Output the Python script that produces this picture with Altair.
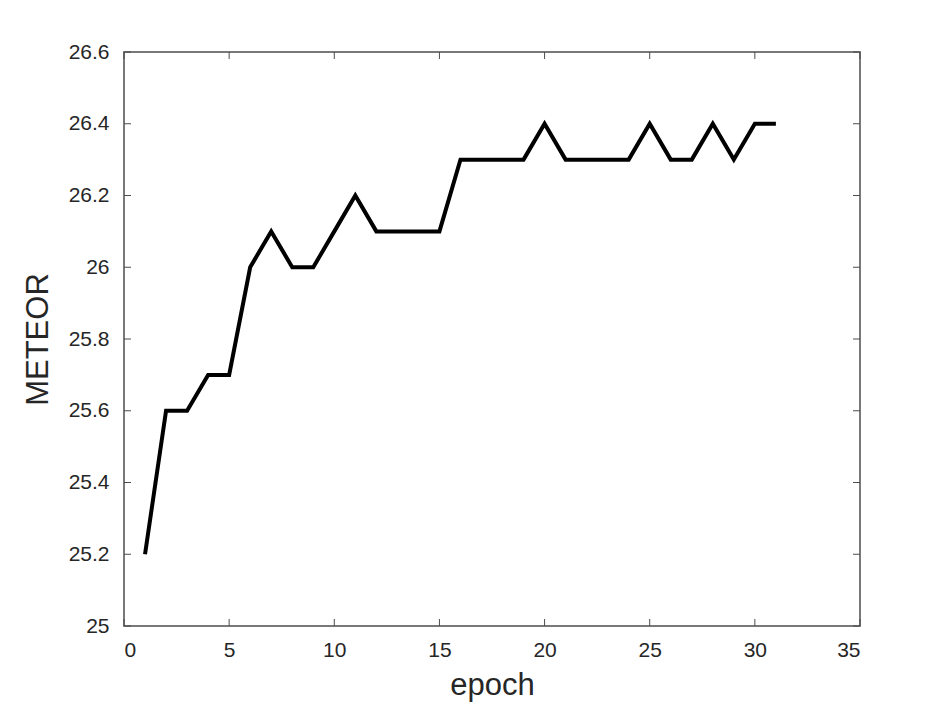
import altair as alt
import pandas as pd

epochs = list(range(1, 32))
meteor = [25.2, 25.6, 25.6, 25.7, 25.7, 26.0, 26.1, 26.0, 26.0, 26.1,
          26.2, 26.1, 26.1, 26.1, 26.1, 26.3, 26.3, 26.3, 26.3, 26.4,
          26.3, 26.3, 26.3, 26.3, 26.4, 26.3, 26.3, 26.4, 26.3, 26.4, 26.4]
x_ticks = [0, 5, 10, 15, 20, 25, 30, 35]
y_ticks = [25.0, 25.2, 25.4, 25.6, 25.8, 26.0, 26.2, 26.4, 26.6]

W, H = 736, 574
TL = 7
FONT = "Liberation Sans"
AXC = "#4d4d4d"
TXT = "#262626"

df = pd.DataFrame({"epoch": epochs, "METEOR": meteor})
xt = pd.DataFrame({"t": x_ticks})
yt = pd.DataFrame({"t": y_ticks})

xs = alt.Scale(domain=[0, 35], nice=False, zero=False)
ys = alt.Scale(domain=[25, 26.6], nice=False, zero=False)

line = alt.Chart(df).mark_line(color="black", strokeWidth=4, clip=True,
                               strokeJoin="miter", strokeCap="butt").encode(
    x=alt.X("epoch:Q", scale=xs, axis=alt.Axis(
        values=x_ticks, title="epoch", domain=False, ticks=False, grid=False,
        labelFont=FONT, labelFontSize=21, labelColor=TXT, labelPadding=13,
        titleFont=FONT, titleFontSize=31, titleFontWeight="normal", titleColor=TXT,
        titlePadding=10)),
    y=alt.Y("METEOR:Q", scale=ys, axis=alt.Axis(
        values=y_ticks, format="~g", title="METEOR", domain=False, ticks=False, grid=False,
        labelFont=FONT, labelFontSize=21, labelColor=TXT, labelPadding=15,
        titleFont=FONT, titleFontSize=31, titleFontWeight="normal", titleColor=TXT,
        titlePadding=14)),
)

xb = alt.Chart(xt).mark_rule(color=AXC, strokeWidth=1).encode(
    x=alt.X("t:Q", scale=xs), y=alt.value(H), y2=alt.value(H - TL))
xtop = alt.Chart(xt).mark_rule(color=AXC, strokeWidth=1).encode(
    x=alt.X("t:Q", scale=xs), y=alt.value(0), y2=alt.value(TL))
yl = alt.Chart(yt).mark_rule(color=AXC, strokeWidth=1).encode(
    y=alt.Y("t:Q", scale=ys), x=alt.value(0), x2=alt.value(TL))
yr = alt.Chart(yt).mark_rule(color=AXC, strokeWidth=1).encode(
    y=alt.Y("t:Q", scale=ys), x=alt.value(W), x2=alt.value(W - TL))

chart = alt.layer(xb, xtop, yl, yr, line).properties(
    width=W, height=H,
    autosize=alt.AutoSizeParams(type="none"),
    padding={"left": 116, "top": 44, "right": 80, "bottom": 80},
).configure(background="white").configure_view(stroke=AXC, strokeWidth=1.5)

chart.save("out.html", embed_options={"renderer": "svg", "actions": False})
